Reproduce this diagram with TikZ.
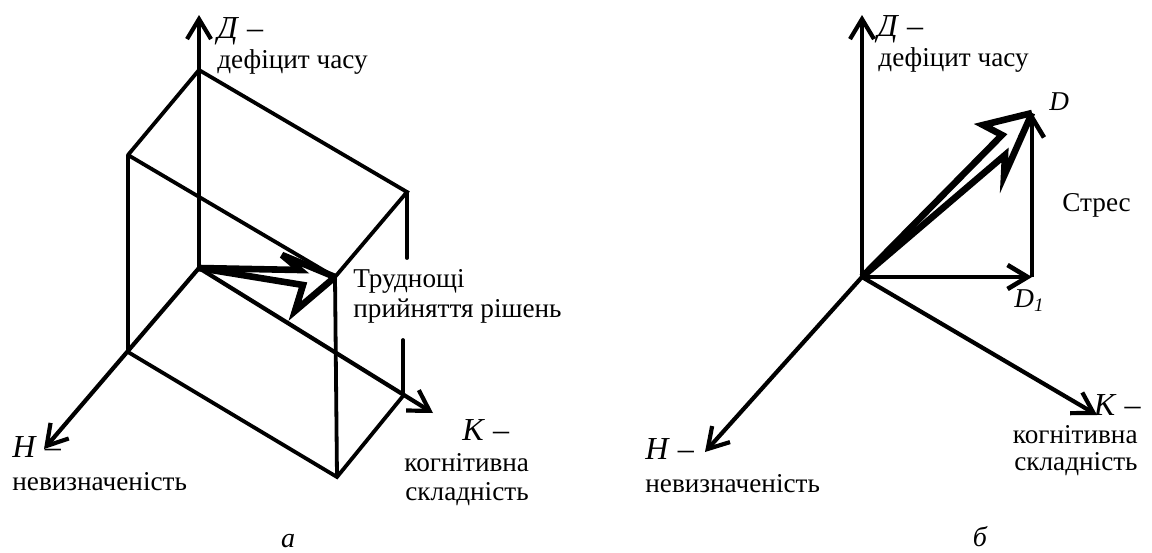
\documentclass[tikz,border=0pt]{standalone}
\usepackage{fontspec}
\setmainfont{Liberation Serif}
\usetikzlibrary{arrows.meta}
\begin{document}
\begin{tikzpicture}[x=0.5pt,y=-0.5pt,
  edge/.style={line width=1.9pt, line cap=round},
  axis/.style={line width=2.1pt, -{Straight Barb[length=10pt,width=12pt]}},
  vec/.style={line width=2.3pt, -{Straight Barb[length=10pt,width=12pt]}},
  bolt/.style={line width=3.3pt, line join=miter, miter limit=6},
  lbl/.style={inner sep=0pt, font=\fontsize{13.6}{16}\selectfont},
  axlbl/.style={inner sep=0pt, font=\fontsize{16}{18}\selectfont},
  captxt/.style={inner sep=0pt, font=\fontsize{14}{16}\selectfont\itshape}]
\useasboundingbox (0,0) rectangle (1152,552);

% ---------- left: box in the D-H-K frame ----------
\coordinate (O)  at (199,268);
\coordinate (Dt) at (199,15);
\coordinate (Ht) at (44,449);
\coordinate (Kt) at (433,413);
\coordinate (T0) at (199,70);
\coordinate (TL) at (128,155);
\coordinate (TR) at (407,192);
\coordinate (TF) at (335,277);
\coordinate (BL) at (128,352);
\coordinate (BR) at (403,396);
\coordinate (BF) at (337,477);
\coordinate (TRa) at (407,258);
\coordinate (BRa) at (403,340);

\draw[axis] (O) -- (Dt);
\draw[axis] (O) -- (Ht);
\draw[axis] (O) -- (Kt);
\draw[edge] (TL) -- (T0) -- (TR) -- (TF) -- (TL);
\draw[edge] (TL) -- (BL) -- (BF) -- (BR);
\draw[edge] (TF) -- (BF);
\draw[edge] (TR) -- (TRa);
\draw[edge] (BRa) -- (BR);

% double lightning arrow towards the front corner
\coordinate (a1) at (300,270);
\coordinate (a2) at (282,255);
\coordinate (b1) at (303,285);
\coordinate (b2) at (295,311);
\draw[bolt] (O) -- (a1) -- (a2) -- (TF);
\draw[bolt] (O) -- (b1) -- (b2) -- (TF);

\node[axlbl, anchor=base west] (lD1) at (217,38) {\textit{Д} –};
\node[lbl, anchor=base west] (lD2) at (217,68) {дефіцит часу};
\node[lbl, anchor=base west] (lT1) at (353,287) {Труднощі};
\node[lbl, anchor=base west] (lT2) at (353,317) {прийняття рішень};
\node[axlbl, anchor=base west] (lH1) at (12,457) {\textit{Н} –};
\node[lbl, anchor=base west] (lH2) at (12,490) {невизначеність};
\node[axlbl, anchor=base west] (lK1) at (462,440) {\textit{К} –};
\node[lbl, anchor=base west] (lK2) at (404,471) {когнітивна};
\node[lbl, anchor=base west] (lK3) at (405,500) {складність};
\node[captxt] (ca) at (288,541) {а};

% ---------- right: stress vector ----------
\coordinate (P)   at (862,277);
\coordinate (PDt) at (862,15);
\coordinate (PHt) at (705,452);
\coordinate (PKt) at (1097,415);
\coordinate (D1)  at (1032,277);
\coordinate (D)   at (1032,113);

\draw[axis] (P) -- (PDt);
\draw[axis] (P) -- (PHt);
\draw[axis] (P) -- (PKt);
\draw[vec] (P) -- (D1);
\draw[vec] (D1) -- (D);

\coordinate (c1) at (1002,135);
\coordinate (c2) at (983,125);
\coordinate (d1) at (1005,155);
\coordinate (d2) at (1004,176);
\draw[bolt] (P) -- (c1) -- (c2) -- (D);
\draw[bolt] (P) -- (d1) -- (d2) -- (D);

\node[axlbl, anchor=base west] (rD1) at (877,36) {\textit{Д} –};
\node[lbl, anchor=base west] (rD2) at (878,66) {дефіцит часу};
\node[lbl, anchor=base west] (rDD) at (1049,110) {\textit{D}};
\node[lbl, anchor=base west] (rS)  at (1062,211) {Стрес};
\node[lbl, anchor=base west] (rD1s) at (1014,307) {\textit{D}\textsubscript{\textit{1}}};
\node[axlbl, anchor=base west] (rH1) at (645,459) {\textit{Н} –};
\node[lbl, anchor=base west] (rH2) at (645,492) {невизначеність};
\node[axlbl, anchor=base east] (rK1) at (1141,415) {\textit{К} –};
\node[lbl, anchor=base east] (rK2) at (1138,443) {когнітивна};
\node[lbl, anchor=base east] (rK3) at (1138,470) {складність};
\node[captxt] (cb) at (980,537) {б};
\end{tikzpicture}
\end{document}
